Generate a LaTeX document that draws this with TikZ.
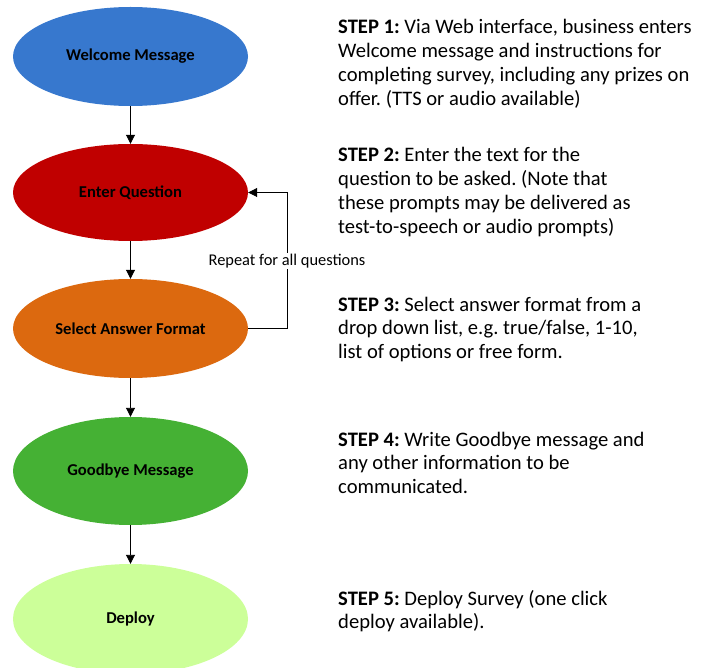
\documentclass[tikz,border=0pt]{standalone}
\usepackage{fontspec}
\setmainfont{Carlito}
\usetikzlibrary{arrows.meta,shapes.geometric}
\usepackage{xcolor}

\definecolor{welcomeblue}{HTML}{3778CE}
\definecolor{questionred}{HTML}{C00000}
\definecolor{answerorange}{HTML}{DC690F}
\definecolor{goodbyegreen}{HTML}{45B134}
\definecolor{deploygreen}{HTML}{CCFF99}

\begin{document}
\begin{tikzpicture}[x=1pt, y=-1pt,
        stage/.style={ellipse, inner sep=0, minimum width=235pt, font=\fontsize{16.6}{19}\selectfont\bfseries},
        note/.style={anchor=base west, inner sep=0, align=left, font=\fontsize{20.6}{23.7}\selectfont\frenchspacing},
        flow/.style={-{Triangle[length=9pt,width=9pt]}, line width=0.9pt}]
        \useasboundingbox (0, 0) rectangle (709, 668);

        \node[stage, fill=welcomeblue, minimum height=99pt] (welcome) at (130.5, 56.5) {Welcome Message};
        \node[stage, fill=questionred, minimum height=97pt] (question) at (130.5, 192.5) {Enter Question};
        \node[stage, fill=answerorange, minimum height=99pt] (answer) at (130.5, 328.5) {Select Answer Format};
        \node[stage, fill=goodbyegreen, minimum height=108pt] (goodbye) at (130.5, 471) {Goodbye Message};
        \node[stage, fill=deploygreen, minimum height=110pt] (deploy) at (130.5, 619) {Deploy};

        \draw[flow] (welcome) -- (question);
        \draw[flow] (question) -- (answer);
        \draw[flow] (answer) -- (goodbye);
        \draw[flow] (goodbye) -- (deploy);

        \coordinate (loop) at (287, 328.5);
        \draw[flow] (answer.east) -- (loop) -- (loop |- question.east) -- (question.east);
        \node[fill=white, inner sep=1pt, font=\fontsize{16.4}{19}\selectfont] (repeat) at (287, 261) {Repeat for all questions};

        % base is the baseline of the last line
        \node[note] (step1) at (338, 105.1) {\textbf{STEP 1:} Via Web interface, business enters\\Welcome message and instructions for\\completing survey, including any prizes on\\offer. (TTS or audio available)};
        \node[note] (step2) at (338, 233.1) {\textbf{STEP 2:} Enter the text for the\\question to be asked. (Note that\\these prompts may be delivered as\\test-to-speech or audio prompts)};
        \node[note] (step3) at (338, 358.4) {\textbf{STEP 3:} Select answer format from a\\drop down list, e.g. true/false, 1-10,\\list of options or free form.};
        \node[note] (step4) at (338, 493.4) {\textbf{STEP 4:} Write Goodbye message and\\any other information to be\\communicated.};
        \node[note] (step5) at (338, 628.7) {\textbf{STEP 5:} Deploy Survey (one click\\deploy available).};

\end{tikzpicture}
\end{document}
